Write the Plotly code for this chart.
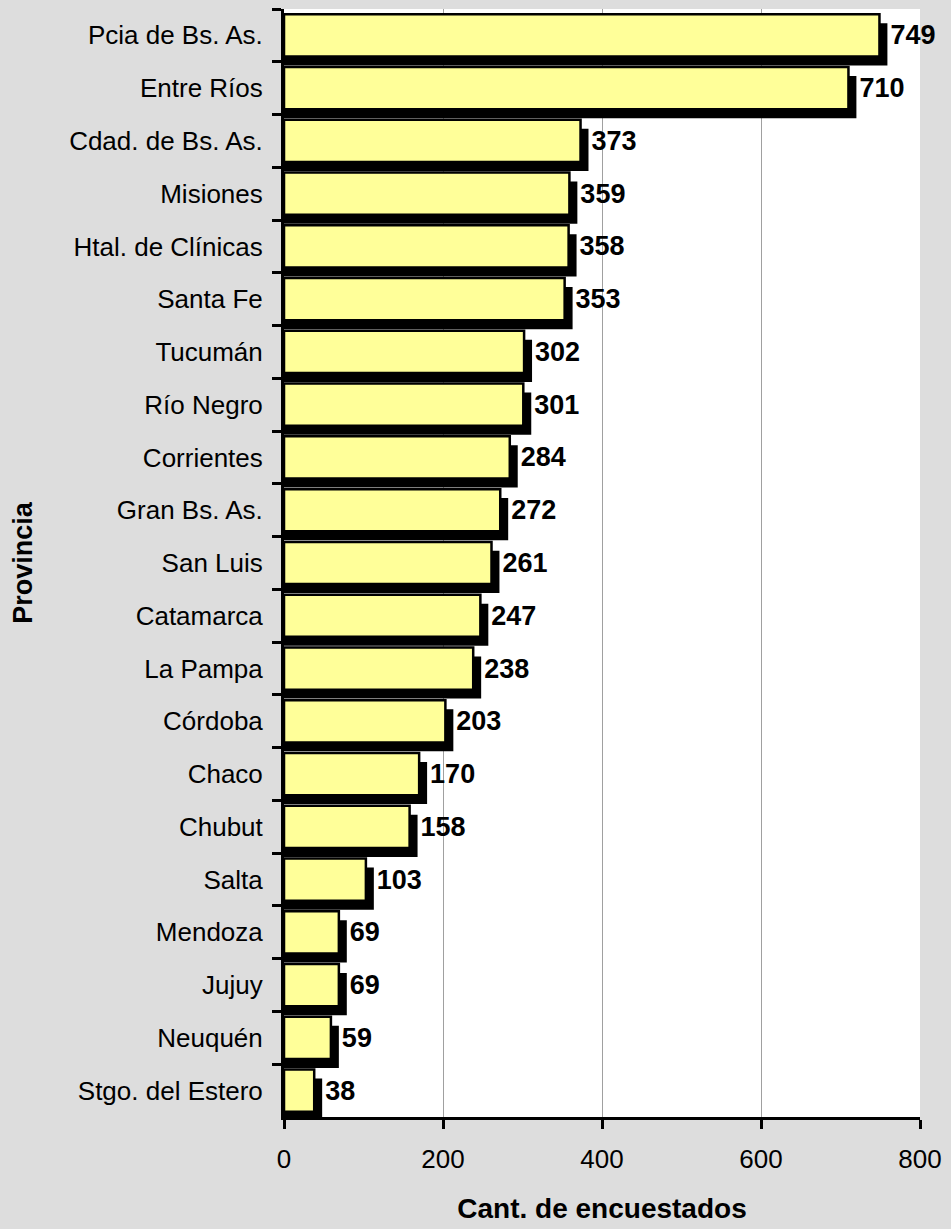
import plotly.graph_objects as go

provincias = ["Pcia de Bs. As.", "Entre Ríos", "Cdad. de Bs. As.", "Misiones",
              "Htal. de Clínicas", "Santa Fe", "Tucumán", "Río Negro", "Corrientes",
              "Gran Bs. As.", "San Luis", "Catamarca", "La Pampa", "Córdoba", "Chaco",
              "Chubut", "Salta", "Mendoza", "Jujuy", "Neuquén", "Stgo. del Estero"]
encuestados = [749, 710, 373, 359, 358, 353, 302, 301, 284, 272, 261, 247, 238,
               203, 170, 158, 103, 69, 69, 59, 38]
x_ticks = [0, 200, 400, 600, 800]

SHADOW_DX = 10      # data units (~8 px)
SHADOW_DY = 0.17    # category units (~9 px)
FONT = "Arial, Liberation Sans, sans-serif"
BG = "#DDDDDD"

shadow_x = [v + SHADOW_DX for v in encuestados]

fig = go.Figure()
# shadow
fig.add_trace(go.Bar(
    y=provincias, x=shadow_x, orientation="h",
    width=0.8, offset=-0.4 + SHADOW_DY,
    marker=dict(color="black", line=dict(width=0)),
    hoverinfo="skip", showlegend=False,
))
# main bars
fig.add_trace(go.Bar(
    y=provincias, x=encuestados, orientation="h",
    width=0.8, offset=-0.4,
    marker=dict(color="#FFFF99", line=dict(color="black", width=2.5)),
    hoverinfo="skip", showlegend=False,
))
# labels
fig.add_trace(go.Bar(
    y=provincias, x=shadow_x, orientation="h",
    width=0.8, offset=-0.4,
    marker=dict(color="rgba(0,0,0,0)", line=dict(width=0)),
    text=[str(v) for v in encuestados], textposition="outside",
    textfont=dict(family=FONT, size=27, color="black", weight="bold"),
    constraintext="none", cliponaxis=False,
    hoverinfo="skip", showlegend=False,
))

fig.update_layout(
    width=951, height=1229,
    barmode="overlay",
    paper_bgcolor=BG, plot_bgcolor="white",
    margin=dict(l=284, r=27, t=9, b=106),
    font=dict(family=FONT, size=26, color="black"),
    xaxis=dict(
        range=[0, 800], tickvals=x_ticks, ticktext=[str(t) for t in x_ticks],
        showgrid=True, gridcolor="#A0A0A0", gridwidth=1,
        showline=True, linecolor="black", linewidth=3,
        ticks="outside", ticklen=9, tickwidth=2.5, tickcolor="black",
        ticklabelstandoff=8,
        zeroline=False,
        tickfont=dict(size=26),
        title=dict(text="<b>Cant. de encuestados</b>", font=dict(size=28), standoff=26),
    ),
    yaxis=dict(
        type="category", categoryorder="array", categoryarray=provincias,
        range=[len(provincias) - 0.5, -0.5],
        showgrid=False,
        showline=True, linecolor="black", linewidth=3,
        ticks="outside", ticklen=9, tickwidth=2.5, tickcolor="black",
        tickson="boundaries", ticklabelstandoff=13,
        tickfont=dict(size=26),
        title=dict(text="<b>Provincia</b>", font=dict(size=27), standoff=29),
    ),
)

fig.write_html(
    "out.html",
    config={"displayModeBar": False},
    post_script="document.body.style.margin='0';document.body.style.background='%s';" % BG,
)
